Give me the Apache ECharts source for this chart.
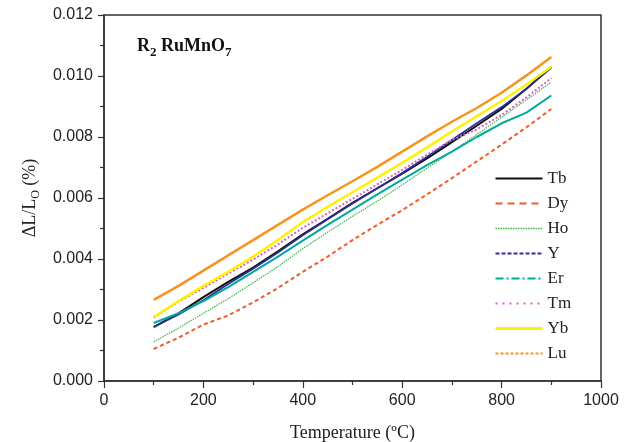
<!DOCTYPE html>
<html>
<head>
<meta charset="utf-8">
<script src="https://cdn.jsdelivr.net/npm/echarts@6/dist/echarts.min.js"></script>
<style>
  html, body { margin: 0; padding: 0; background: #fff; }
  #chart { width: 638px; height: 442px; }
</style>
</head>
<body>
<div id="chart"></div>
<script>
  // temperature (ºC) sample points
  var temps = [100, 150, 200, 250, 300, 350, 400, 450, 500, 550, 600, 650, 700, 750, 800, 850, 900]

  // ΔL/LO (%)
  var tb = [0.00177, 0.00222, 0.00275, 0.00325, 0.00372, 0.00425, 0.00481, 0.00532, 0.00584, 0.00632, 0.00680, 0.00730, 0.00783, 0.00837, 0.00892, 0.00958, 0.01030]
  var dy = [0.00105, 0.00142, 0.00185, 0.00215, 0.00258, 0.00305, 0.00358, 0.00408, 0.00462, 0.00512, 0.00560, 0.00612, 0.00665, 0.00720, 0.00775, 0.00832, 0.00892]
  var ho = [0.00128, 0.00174, 0.00222, 0.00270, 0.00322, 0.00375, 0.00434, 0.00488, 0.00540, 0.00590, 0.00643, 0.00698, 0.00752, 0.00808, 0.00865, 0.00922, 0.00980]
  var yy = [0.00177, 0.00218, 0.00265, 0.00318, 0.00368, 0.00421, 0.00478, 0.00530, 0.00582, 0.00632, 0.00682, 0.00735, 0.00790, 0.00845, 0.00898, 0.00958, 0.01028]
  var er = [0.00190, 0.00222, 0.00262, 0.00308, 0.00358, 0.00408, 0.00460, 0.00512, 0.00562, 0.00612, 0.00660, 0.00708, 0.00752, 0.00800, 0.00845, 0.00880, 0.00936]
  var tm = [0.00208, 0.00260, 0.00305, 0.00352, 0.00398, 0.00448, 0.00502, 0.00550, 0.00597, 0.00645, 0.00692, 0.00742, 0.00790, 0.00825, 0.00872, 0.00930, 0.00993]
  var yb = [0.00210, 0.00262, 0.00312, 0.00358, 0.00408, 0.00462, 0.00521, 0.00571, 0.00619, 0.00667, 0.00715, 0.00766, 0.00818, 0.00868, 0.00918, 0.00972, 0.01030]
  var lu = [0.00266, 0.00312, 0.00362, 0.00412, 0.00462, 0.00512, 0.00562, 0.00609, 0.00655, 0.00702, 0.00752, 0.00802, 0.00850, 0.00895, 0.00945, 0.01002, 0.01062]

  var names = ['Tb', 'Dy', 'Ho', 'Y', 'Er', 'Tm', 'Yb', 'Lu']
  var values = [tb, dy, ho, yy, er, tm, yb, lu]
  var colors = ['#111111', '#f15a29', '#39b54a', '#2e3192', '#00a99d', '#d462c4', '#fff200', '#f7941d']
  var styles = [
    {width: 2, type: 'solid'},
    {width: 2, type: [4, 3]},
    {width: 1.2, type: [1.5, 1]},
    {width: 1.8, type: 'solid'},
    {width: 2, type: 'solid'},
    {width: 2, type: [2, 2]},
    {width: 2.5, type: 'solid'},
    {width: 2.5, type: 'solid'}
  ]
  var legendStyles = [
    {type: 'solid', width: 2},
    {type: [7, 5], width: 2},
    {type: [1.5, 1], width: 1.5},
    {type: [4, 2], width: 2},
    {type: [8, 3, 2, 3], width: 2},
    {type: [2, 5], width: 2},
    {type: 'solid', width: 3},
    {type: [3, 2], width: 2}
  ]

  var chart = echarts.init(document.getElementById('chart'))

  var series = []
  var legendData = []
  for (var i = 0; i < names.length; i++) {
    var pts = []
    for (var j = 0; j < temps.length; j++) {
      pts.push([temps[j], values[i][j]])
    }
    series.push({
      name: names[i],
      type: 'line',
      data: pts,
      symbol: 'none',
      color: colors[i],
      lineStyle: {color: colors[i], width: styles[i].width, type: styles[i].type}
    })
    legendData.push({
      name: names[i],
      itemStyle: {opacity: 0},
      lineStyle: {color: colors[i], width: legendStyles[i].width, type: legendStyles[i].type}
    })
  }

  var serif = '"Liberation Serif", "Times New Roman", serif'
  var sans = '"Liberation Sans", Arial, sans-serif'

  chart.setOption({
    animation: false,
    backgroundColor: '#fff',
    title: {
      text: '{b|R}{s|2}{b| RuMnO}{s|7}',
      left: 132,
      top: 28,
      textStyle: {
        rich: {
          b: {fontFamily: serif, fontWeight: 'bold', fontSize: 18, color: '#111', lineHeight: 26, verticalAlign: 'middle'},
          s: {fontFamily: serif, fontWeight: 'bold', fontSize: 13, color: '#111', lineHeight: 26, verticalAlign: 'bottom'}
        }
      }
    },
    legend: {
      orient: 'vertical',
      left: 489,
      top: 165,
      itemWidth: 47,
      itemHeight: 14,
      itemGap: 8,
      textStyle: {fontFamily: serif, fontSize: 17, lineHeight: 14, color: '#222'},
      data: legendData
    },
    grid: {
      left: 104,
      right: 37,
      top: 15,
      bottom: 61,
      outerBoundsMode: 'none',
      show: true,
      borderColor: '#333',
      borderWidth: 1.5
    },
    xAxis: {
      type: 'value',
      min: 0,
      max: 1000,
      interval: 200,
      name: 'Temperature (ºC)',
      nameLocation: 'middle',
      nameGap: 43,
      nameTextStyle: {fontFamily: serif, fontSize: 18, color: '#222'},
      axisLine: {lineStyle: {color: '#333', width: 1.5}},
      axisTick: {length: 7, lineStyle: {color: '#333', width: 1.2}},
      minorTick: {show: true, splitNumber: 2, length: 4, lineStyle: {color: '#333', width: 1.2}},
      axisLabel: {
        fontFamily: sans, fontSize: 16, color: '#222', margin: 12,
        formatter: function (v) { return String(v) }
      },
      splitLine: {show: false}
    },
    yAxis: {
      type: 'value',
      min: 0,
      max: 0.012,
      interval: 0.002,
      name: '{n|ΔL/L}{s|O}{n| (%)}',
      nameLocation: 'middle',
      nameRotate: 90,
      nameGap: 62,
      nameTextStyle: {
        rich: {
          n: {fontFamily: serif, fontSize: 18, color: '#222', lineHeight: 24, verticalAlign: 'middle'},
          s: {fontFamily: serif, fontSize: 12, color: '#222', lineHeight: 24, verticalAlign: 'bottom'}
        }
      },
      axisLine: {lineStyle: {color: '#333', width: 1.5}},
      axisTick: {length: 6, lineStyle: {color: '#333', width: 1.2}},
      minorTick: {show: true, splitNumber: 2, length: 4, lineStyle: {color: '#333', width: 1.2}},
      axisLabel: {
        fontFamily: sans, fontSize: 16, color: '#222', margin: 11,
        formatter: function (v) { return v.toFixed(3) }
      },
      splitLine: {show: false}
    },
    series: series
  })
</script>
</body>
</html>
